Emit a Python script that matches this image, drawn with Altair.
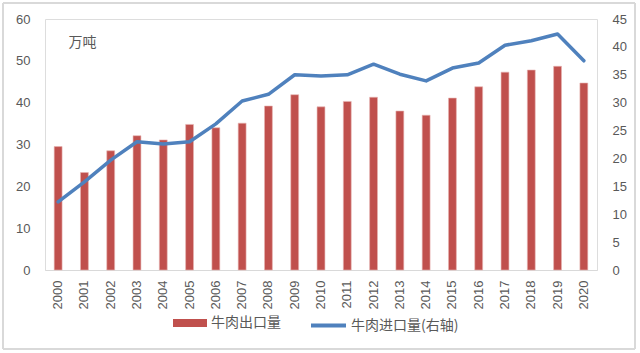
import altair as alt
import pandas as pd

years = ["2000", "2001", "2002", "2003", "2004", "2005", "2006", "2007", "2008", "2009", "2010",
         "2011", "2012", "2013", "2014", "2015", "2016", "2017", "2018", "2019", "2020"]
export_vals = [29.5, 23.3, 28.5, 32.1, 31.1, 34.8, 34.0, 35.1, 39.2, 41.9, 39.0,
               40.3, 41.3, 38.0, 37.0, 41.1, 43.8, 47.3, 47.8, 48.7, 44.7]
import_vals = [12.2, 15.8, 19.7, 23.0, 22.6, 23.0, 26.2, 30.3, 31.5, 35.0, 34.8,
               35.0, 36.9, 35.1, 33.9, 36.2, 37.1, 40.3, 41.1, 42.3, 37.5]
left_ticks = [0, 10, 20, 30, 40, 50, 60]
right_ticks = [0, 5, 10, 15, 20, 25, 30, 35, 40, 45]

df = pd.DataFrame({
    "year": years,
    "export": export_vals,
    "import": import_vals,
    "s1": ["牛肉出口量"] * len(years),
    "s2": ["牛肉进口量(右轴)"] * len(years),
})

FONT = "Liberation Sans, Noto Sans CJK SC"
CJK = "Noto Sans CJK SC"
GRAY = "#595959"

x_enc = alt.X("year:N", sort=years,
              scale=alt.Scale(paddingInner=0.7, paddingOuter=0.35),
              axis=alt.Axis(title=None, labelAngle=-90, labelAlign="right", labelBaseline="middle",
                            labelPadding=10, labelFontSize=13, labelColor=GRAY, labelFont=FONT,
                            ticks=False, domainColor="#D9D9D9", domainWidth=1, grid=False))

frame = alt.Chart(df).mark_rect(fill=None, stroke="#D9D9D9", strokeWidth=1.5, cornerRadius=2).encode(
    x=alt.value(-42), x2=alt.value(590), y=alt.value(-16), y2=alt.value(330)
)

bars = alt.Chart(df).mark_bar(stroke="#E8B6B4", strokeWidth=0.6).encode(
    x=x_enc,
    y=alt.Y("export:Q", scale=alt.Scale(domain=[0, 60], nice=False),
            axis=alt.Axis(title="万吨", titleAngle=0, titleX=23, titleY=23, titleAlign="left",
                          titleBaseline="middle", titleFont=CJK, titleFontSize=14,
                          titleFontWeight="normal", titleColor=GRAY,
                          values=left_ticks, labelFontSize=13, labelColor=GRAY, labelFont=FONT,
                          labelPadding=15, ticks=False, domain=False, grid=False)),
    color=alt.Color("s1:N", scale=alt.Scale(range=["#C0504D"]),
                    legend=alt.Legend(title=None, orient="none", legendX=128, legendY=287,
                                      symbolType="M-1,-0.24H1V0.24H-1Z", symbolSize=1156,
                                      symbolStrokeWidth=0, labelFont=CJK, labelFontSize=14,
                                      labelColor=GRAY, padding=0, labelOffset=4)),
)

line = alt.Chart(df).mark_line(strokeWidth=3.5, strokeCap="round", strokeJoin="round").encode(
    x=alt.X("year:N", sort=years),
    y=alt.Y("import:Q", scale=alt.Scale(domain=[0, 45], nice=False),
            axis=alt.Axis(title=None, orient="right", values=right_ticks, labelFontSize=13,
                          labelColor=GRAY, labelFont=FONT, labelPadding=15, labelAlign="left",
                          ticks=False, domain=False, grid=False)),
    stroke=alt.Stroke("s2:N", scale=alt.Scale(range=["#4F81BD"]),
                      legend=alt.Legend(title=None, orient="none", legendX=264, legendY=287,
                                        symbolType="stroke", symbolSize=1225, symbolStrokeWidth=4,
                                        labelFont=CJK, labelFontSize=14, labelColor=GRAY,
                                        padding=0, labelOffset=3)),
)

chart = alt.layer(frame, bars, line).resolve_scale(
    y="independent", color="independent", stroke="independent"
).properties(
    width=552, height=251,
    autosize=alt.AutoSizeParams(type="none"),
    padding={"left": 45, "top": 19, "right": 43, "bottom": 83},
).configure_view(stroke=None).configure(background="white")

chart.save("out.html", embed_options={"renderer": "svg", "actions": False})
